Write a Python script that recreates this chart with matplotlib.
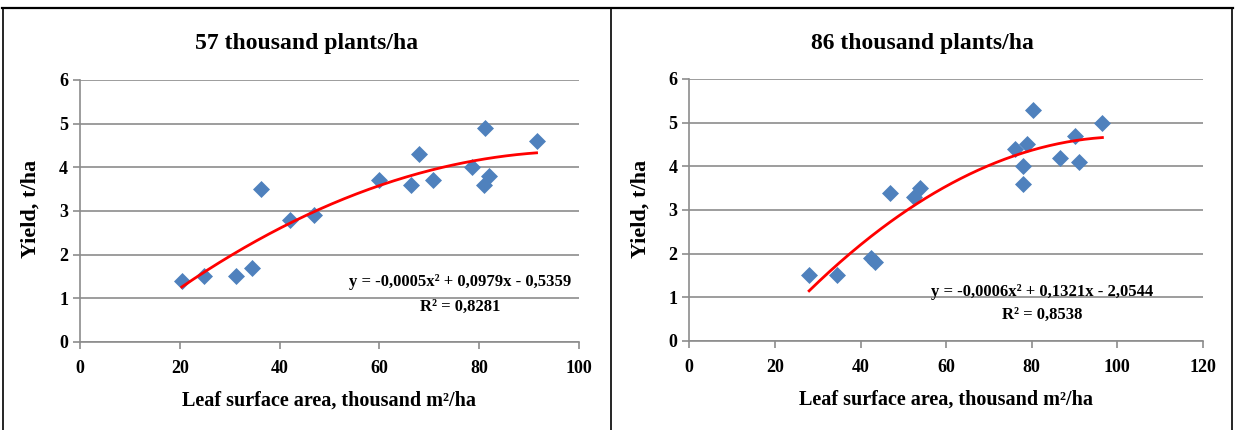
import numpy as np
import matplotlib
matplotlib.use("Agg")
import matplotlib.pyplot as plt
from matplotlib.lines import Line2D

plt.rcParams['font.family'] = ['Liberation Serif', 'DejaVu Serif']
plt.rcParams['font.weight'] = 'bold'

titles = ["57 thousand plants/ha", "86 thousand plants/ha"]

x57 = [20.4, 24.8, 31.3, 34.5, 36.3, 42.1, 46.8, 59.9, 66.3, 67.9, 70.8, 78.6, 81.2, 80.9, 81.9, 91.5]
y57 = [1.4, 1.5, 1.5, 1.7, 3.5, 2.8, 2.9, 3.7, 3.6, 4.3, 3.7, 4.0, 4.9, 3.6, 3.8, 4.6]

x86 = [28.0, 34.4, 42.5, 43.3, 47.0, 52.5, 53.8, 76.1, 77.9, 77.9, 79.0, 80.2, 86.5, 90.1, 91.1, 96.5]
y86 = [1.5, 1.5, 1.9, 1.8, 3.4, 3.3, 3.5, 4.4, 4.0, 3.6, 4.5, 5.3, 4.2, 4.7, 4.1, 5.0]

eq57 = ["y = -0,0005x² + 0,0979x - 0,5359", "R² = 0,8281"]
eq86 = ["y = -0,0006x² + 0,1321x - 2,0544", "R² = 0,8538"]

xmax = [100, 120]
eq_pos = [(76.2, 1.38, 0.81), (82.4, 1.13, 0.60)]

fig = plt.figure(figsize=(12.35, 4.3), dpi=100)

axes_rects = [[0.0648, 0.2047, 0.404, 0.6093],
              [0.5581, 0.2070, 0.4160, 0.6093]]
panel_cx = [0.2486, 0.7470]
ylab_x = [0.025, 0.519]

data = [(x57, y57, eq57), (x86, y86, eq86)]

for i, (xs, ys, eq) in enumerate(data):
    ax = fig.add_axes(axes_rects[i])
    ax.set_xlim(0, xmax[i])
    ax.set_ylim(0, 6)
    ax.set_xticks(range(0, xmax[i] + 1, 20))
    ax.set_yticks(range(0, 7))
    ax.yaxis.grid(True, color='#8c8c8c', lw=1.2)
    ax.set_axisbelow(True)
    for s in ['top', 'right']:
        ax.spines[s].set_visible(False)
    for s in ['left', 'bottom']:
        ax.spines[s].set_color('#8c8c8c')
        ax.spines[s].set_linewidth(1.2)
    ax.tick_params(axis='both', colors='#8c8c8c', labelcolor='black',
                   labelsize=13, length=5, width=1.2)
    ax.tick_params(axis='x', pad=8)
    for lab in ax.get_xticklabels() + ax.get_yticklabels():
        lab.set_fontweight('bold')

    ax.scatter(xs, ys, marker='D', s=75, color='#4F81BD', zorder=3, linewidths=0)
    # second-order polynomial trendline fitted to the points
    coef = np.polyfit(xs, ys, 2)
    xx = np.linspace(min(xs), max(xs), 200)
    ax.plot(xx, np.polyval(coef, xx), color='red', lw=2.0, zorder=4)

    ex, ey1, ey2 = eq_pos[i]
    ax.text(ex, ey1, eq[0], ha='center', va='center', fontsize=12, fontweight='bold', zorder=5)
    ax.text(ex, ey2, eq[1], ha='center', va='center', fontsize=12, fontweight='bold', zorder=5)

    ax.set_xlabel("Leaf surface area, thousand m²/ha", fontsize=14.5, fontweight='bold', labelpad=10)
    fig.text(ylab_x[i], 0.515, "Yield, t/ha", rotation=90, ha='center', va='center',
             fontsize=16, fontweight='bold')
    fig.text(panel_cx[i], 0.90, titles[i], ha='center', va='center', fontsize=17, fontweight='bold')

# table-like frame
fig.add_artist(Line2D([0.002, 0.998], [0.982, 0.982], color='black', lw=1.6))
for xf in [0.0028, 0.4947, 0.9975]:
    fig.add_artist(Line2D([xf, xf], [0.0, 0.982], color='black', lw=1.2))

plt.savefig("out.png", dpi=100)
